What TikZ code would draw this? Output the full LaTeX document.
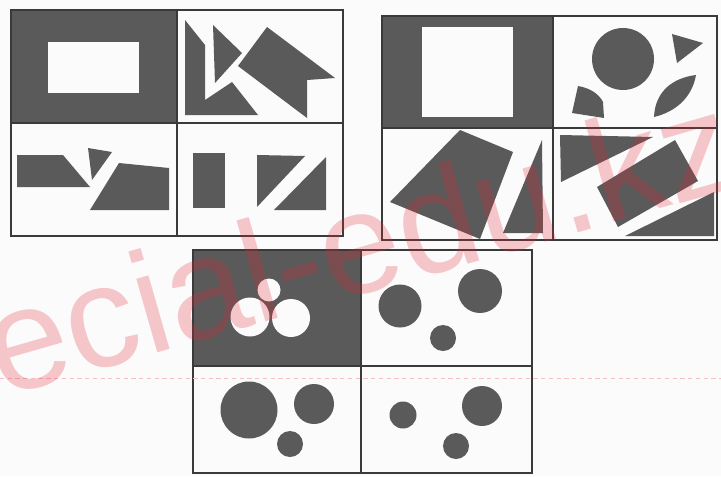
\documentclass[tikz,border=0pt]{standalone}
\usepackage{fontspec}
\newfontfamily\wmfont{Liberation Sans}
\definecolor{figInk}{HTML}{3A3A3A}
\definecolor{figGrey}{HTML}{5A5A5A}
\definecolor{figPaper}{HTML}{FBFBFB}
\definecolor{wmRed}{HTML}{E02A36}
\begin{document}
\begin{tikzpicture}[x=0.05cm,y=-0.05cm,
    cellbox/.style={draw=figInk,line width=1.6pt},
    piece/.style={fill=figGrey},
    hole/.style={fill=figPaper},
    wmtext/.style={text=wmRed,text opacity=0.25,inner sep=0pt,
      font=\wmfont\fontsize{206}{206}\selectfont}]
		\useasboundingbox[fill=figPaper] (0,0) rectangle (721,476);
		\fill[piece] (11,10) rectangle (177,123);
		\fill[hole] (48,42) rectangle (139,93);
		\fill[piece] (185,20)--(205,45)--(205,100)--(232,82)--(258,115)--(185,115)--cycle;
		\fill[piece] (213,25)--(242,53)--(215,83)--cycle;
		\fill[piece] (238,66)--(267,27)--(335,78)--(307,80)--(307,118)--cycle;
		\fill[piece] (17,155)--(63,155)--(90,187)--(17,187)--cycle;
		\fill[piece] (88,148)--(112,152)--(92,180)--cycle;
		\fill[piece] (119,163)--(169,168)--(169,210)--(90,210)--cycle;
		\fill[piece] (193,153) rectangle (225,208);
		\fill[piece] (257,155)--(305,156)--(257,207)--cycle;
		\fill[piece] (326,157)--(326,210)--(274,210)--cycle;
		\draw[cellbox] (11,10) rectangle (343,236) (177,10)--(177,236) (11,123)--(343,123);
		\fill[piece] (382,16) rectangle (553,128);
		\fill[hole] (422,27) rectangle (513,117);
		\fill[piece] (623,59) circle (31);
		\fill[piece] (672,34)--(703,43)--(677,63)--cycle;
		\fill[piece] (654,117) .. controls (655,92) and (672,78) .. (696,75)
			.. controls (692,98) and (675,112) .. (654,117)--cycle;
		\fill[piece] (578,86) .. controls (590,88) and (599,94) .. (603,102)--(604,118)--(572,113)--cycle;
		\fill[piece] (460,130)--(513,152)--(480,239)--(390,202)--cycle;
		\fill[piece] (542,140)--(543,233)--(503,233)--cycle;
		\fill[piece] (560,135)--(653,137)--(561,182)--cycle;
		\fill[piece] (597,187)--(675,140)--(698,181)--(618,227)--cycle;
		\fill[piece] (714,192)--(714,236)--(625,236)--cycle;
		\draw[cellbox] (382,16) rectangle (717,240) (553,16)--(553,240) (382,128)--(717,128);
		\fill[piece] (193,250) rectangle (361,366);
		\foreach \cx/\cy/\r in {250/317/19.5,291/318/19,269/290/11.5}{\fill[hole] (\cx,\cy) circle (\r);}
		\foreach \cx/\cy/\r in {400/306/21.5,480/291/22,443/338/13,249/410/28.5,314/404/20,
			290/444/13,403/415/13.5,482/406/20,456/446/13}{\fill[piece] (\cx,\cy) circle (\r);}
		\draw[cellbox] (193,250) rectangle (532,473) (361,250)--(361,473) (193,366)--(532,366);
		\draw[wmRed!30,line width=0.6pt,dash pattern=on 6pt off 5pt] (0,378)--(721,378);
		\node[wmtext,anchor=base west,rotate=16] (wmark) at (1,398) {ecial-edu.kz};
	\end{tikzpicture}
\end{document}
